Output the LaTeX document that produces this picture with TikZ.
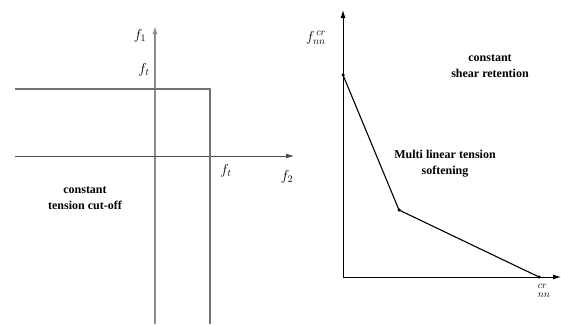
\documentclass[tikz,border=0pt]{standalone}
\usepackage{fontspec}
\setmainfont{Liberation Serif}
\usetikzlibrary{arrows.meta}

\begin{document}
\begin{tikzpicture}[x=1pt, y=-1pt, font=\bfseries\fontsize{12}{16}\selectfont,
    axis/.style={line width=0.9pt, -{Latex[length=8pt,width=5pt]}},
    graybar/.style={line width=1.3pt, draw=black!55},
    knot/.style={circle, fill=black, inner sep=0pt, minimum size=3.5pt},
    lbl/.style={font=\fontsize{14}{14}\selectfont\itshape, inner sep=1pt}]
    \useasboundingbox (0,0) rectangle (561,324);

    % Left: tension cut-off
    \coordinate (lbot) at (155,324);
    \coordinate (ltop) at (155,26);
    \coordinate (lleft) at (15,156);
    \coordinate (lright) at (294,156);
    \coordinate (cutA) at (15,89);
    \coordinate (cutB) at (210,89);
    \coordinate (cutC) at (210,324);
    \draw[axis, draw=black!45, line width=1.3pt] (lbot) -- (ltop);
    \draw[axis, draw=black!70] (lleft) -- (lright);
    \draw[graybar] (cutA) -- (cutB) -- (cutC);

    \node[lbl] (fone) at (140,36) {$f_1$};
    \node[lbl] (ftv) at (144,70) {$f_t$};
    \node[lbl] (fth) at (226,171) {$f_t$};
    \node[lbl] (ftwo) at (287,177) {$f_2$};
    \node[align=center] (cutoff) at (85,198) {constant\\tension cut-off};

    % Right: shear retention and softening
    \coordinate (rorig) at (343,277);
    \coordinate (rtop) at (343,10);
    \coordinate (rright) at (561,277);
    \draw[axis] (rorig) -- (rtop);
    \draw[axis] (rorig) -- (rright);

    \node[knot] (kone) at (343,75) {};
    \node[knot] (ktwo) at (399,210) {};
    \node[knot] (kthree) at (539,277) {};
    \draw[line width=1.1pt] (kone.center) -- (ktwo.center) -- (kthree.center);

    \node[lbl] (fnn) at (316,38) {$f^{\,cr}_{nn}$};
    \node[lbl] (enn) at (544,291) {$^{cr}_{nn}$};
    \node[align=center] (shear) at (490,66) {constant\\shear retention};
    \node[align=center] (soft) at (445,164) {Multi linear tension\\softening};
\end{tikzpicture}
\end{document}
